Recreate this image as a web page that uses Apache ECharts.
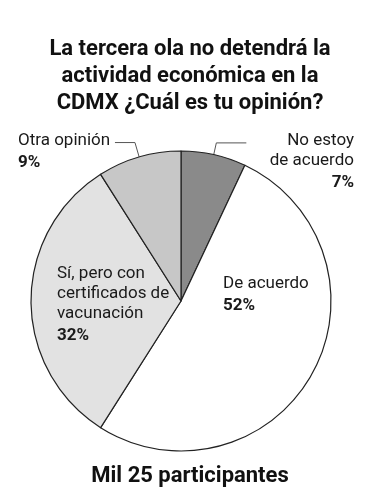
<!DOCTYPE html>
<html>
<head>
<meta charset="utf-8">
<script src="https://cdn.jsdelivr.net/npm/echarts@6/dist/echarts.min.js"></script>
<style>
html,body{margin:0;padding:0;background:#fff;}
#chart{width:380px;height:500px;}
</style>
</head>
<body>
<div id="chart"></div>
<script>
// ---- data ----
var categories = ['No estoy de acuerdo', 'De acuerdo', 'Sí, pero con certificados de vacunación', 'Otra opinión'];
var labelLines = [['No estoy', 'de acuerdo'], ['De acuerdo'], ['Sí, pero con', 'certificados de', 'vacunación'], ['Otra opinión']];
var values = [7, 52, 32, 9];
var titleText = 'La tercera ola no detendrá la\nactividad económica en la\nCDMX ¿Cuál es tu opinión?';
var footerText = 'Mil 25 participantes';

// ---- styles ----
var FONT = 'Roboto';
var colors = ['#8a8a8a', '#ffffff', '#e2e2e2', '#c7c7c7'];
var CX = 181, CY = 301, R = 150;

function labelFor(i) {
  var parts = labelLines[i].map(function (s) { return '{n|' + s + '}'; });
  parts.push('{p|' + values[i] + '%}');
  return parts.join('\n');
}
function rich(align) {
  return {
    n: { fontFamily: FONT, fontSize: 17, lineHeight: 20, color: '#1a1a1a', align: align },
    p: { fontFamily: FONT, fontSize: 17, fontWeight: 'bold', lineHeight: 24, color: '#1a1a1a', align: align }
  };
}

var data = values.map(function (v, i) {
  var item = { name: categories[i], value: v, itemStyle: { color: colors[i] } };
  if (i === 0) {
    item.label = { show: true, position: 'outside', alignTo: 'edge', edgeDistance: 26, distanceToLabelLine: 11,
      formatter: labelFor(i), rich: rich('right'), padding: [40, 0, 0, 0] };
    item.labelLine = { show: true, length: 12, length2: 30 };
  } else if (i === 3) {
    item.label = { show: true, position: 'outside', alignTo: 'edge', edgeDistance: 18, distanceToLabelLine: 14,
      formatter: labelFor(i), rich: rich('left'), padding: [20, 0, 0, 0] };
    item.labelLine = { show: true, length: 15, length2: 20 };
  } else {
    item.label = { show: true, position: 'inside', formatter: labelFor(i), rich: rich('left') };
    item.labelLine = { show: false };
  }
  return item;
});

var chart = echarts.init(document.getElementById('chart'), null, { renderer: 'canvas' });
chart.setOption({
  backgroundColor: '#ffffff',
  animation: false,
  title: [
    { text: titleText, left: 'center', top: 31,
      textStyle: { fontFamily: FONT, fontSize: 22, fontWeight: 'bold', lineHeight: 27, color: '#111' } },
    { text: footerText, left: 'center', top: 458,
      textStyle: { fontFamily: FONT, fontSize: 22, fontWeight: 'bold', lineHeight: 26, color: '#111' } }
  ],
  series: [{
    type: 'pie',
    center: [CX, CY],
    radius: R,
    startAngle: 90,
    clockwise: true,
    avoidLabelOverlap: false,
    itemStyle: { borderColor: '#222', borderWidth: 1.2 },
    labelLine: { lineStyle: { color: '#555', width: 1 }, smooth: false },
    labelLayout: function (p) {
      if (p.dataIndex === 1) return { x: 223, y: 296, align: 'left', verticalAlign: 'middle' };
      if (p.dataIndex === 2) return { x: 57, y: 306, align: 'left', verticalAlign: 'middle' };
      return {};
    },
    data: data
  }]
});
</script>
</body>
</html>
